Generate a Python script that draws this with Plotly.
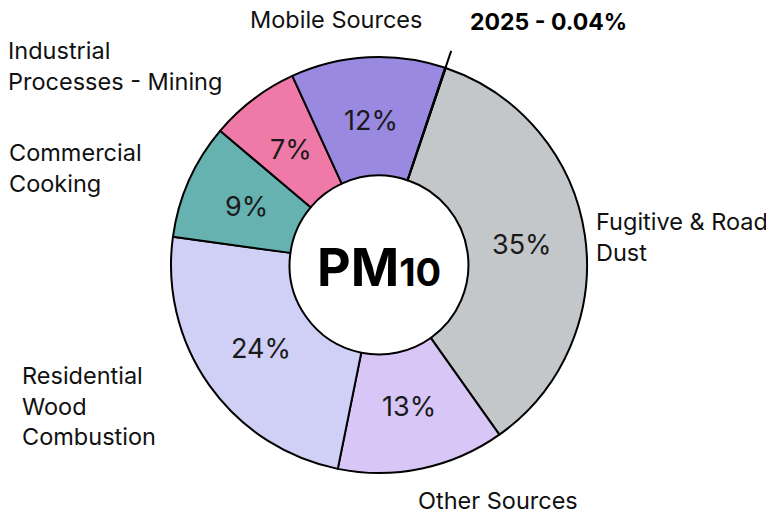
import math
import plotly.graph_objects as go

# ---- data ----
categories = ["Fugitive & Road Dust", "Other Sources", "Residential Wood Combustion",
              "Commercial Cooking", "Industrial Processes - Mining", "Mobile Sources",
              "Electric Utility"]
values = [35, 13, 24, 9, 7, 12, 0.04]
pct_labels = ["35%", "13%", "24%", "9%", "7%", "12%", ""]
colors = ["#C3C7CA", "#D8C6F7", "#D0D0F6", "#65B2B1", "#F07AA7", "#9A89E0", "#333333"]
outside_labels = ["Fugitive & Road<br>Dust", "Other Sources", "Residential<br>Wood<br>Combustion",
                  "Commercial<br>Cooking", "Industrial<br>Processes - Mining", "Mobile Sources",
                  "<b>Electric Utility<br>2025 - 0.04%</b>"]
center_title = "PM"
center_sub = "10"

# ---- layout geometry (window pixels; page body has an 8px default margin) ----
OFF = 8
W, H = 774 - OFF, 514 - OFF
CX, CY, R = 379 - OFF, 265 - OFF, 208
HOLE = 0.43
ROT = 18.7
ML, MT = CX - R, CY - R
MR, MB = W - (CX + R), H - (CY + R)

def px(x):
    return (x - OFF - ML) / (2 * R)

def py(y):
    return (H - MB - (y - OFF)) / (2 * R)

FONT = "Inter, Liberation Sans, Arial, sans-serif"

fig = go.Figure(go.Pie(
    labels=categories, values=values, sort=False, direction="clockwise",
    rotation=ROT, hole=HOLE, textinfo="none", hoverinfo="label+percent",
    marker=dict(colors=colors, line=dict(color="black", width=2)),
    showlegend=False,
))

annotations = []
total = sum(values)
cum = 0
mids = []
for v in values:
    mid = ROT + (cum + v / 2) / total * 360
    mids.append(mid)
    cum += v

WCX, WCY = CX + OFF, CY + OFF
rmid = R * (1 + HOLE) / 2 - 4
for lab, mid in zip(pct_labels, mids):
    if not lab:
        continue
    a = math.radians(mid)
    x = WCX + rmid * math.sin(a)
    y = WCY - rmid * math.cos(a)
    annotations.append(dict(x=px(x), y=py(y), xref="paper", yref="paper", text=lab,
                            showarrow=False, font=dict(family=FONT, size=27, color="#1a1a1a"),
                            xanchor="center", yanchor="middle"))

# outside label positions (window px: left edge, centre y)
label_pos = [(594, 237), (416, 500), (20, 406), (7, 168), (6, 66), (248, 20), (548, 7)]
for i, (lab, (lx, ly)) in enumerate(zip(outside_labels, label_pos)):
    if i == len(outside_labels) - 1:
        annotations.append(dict(x=px(lx), y=py(ly), xref="paper", yref="paper", text=lab,
                                showarrow=False, align="center",
                                font=dict(family=FONT, size=23, color="black"),
                                xanchor="center", yanchor="middle"))
    else:
        annotations.append(dict(x=px(lx), y=py(ly), xref="paper", yref="paper", text=lab,
                                showarrow=False, align="left",
                                font=dict(family=FONT, size=23.5, color="#111111"),
                                xanchor="left", yanchor="middle"))

# centre title
annotations.append(dict(x=px(WCX), y=py(WCY + 2), xref="paper", yref="paper",
                        text=f"<b>{center_title}</b><b><span style='font-size:38px'>{center_sub}</span></b>",
                        showarrow=False, font=dict(family=FONT, size=52, color="black"),
                        xanchor="center", yanchor="middle"))

# leader line for the tiny slice
a = math.radians(mids[-1])
x0, y0 = WCX + R * math.sin(a), WCY - R * math.cos(a)
x1, y1 = WCX + (R + 18) * math.sin(a), WCY - (R + 18) * math.cos(a)
shapes = [dict(type="line", xref="paper", yref="paper", x0=px(x0), y0=py(y0),
               x1=px(x1), y1=py(y1), line=dict(color="black", width=2))]

fig.update_layout(
    width=W, height=H,
    margin=dict(l=ML, r=MR, t=MT, b=MB, pad=0),
    paper_bgcolor="white", plot_bgcolor="white",
    annotations=annotations, shapes=shapes,
)

fig.write_html("out.html")
